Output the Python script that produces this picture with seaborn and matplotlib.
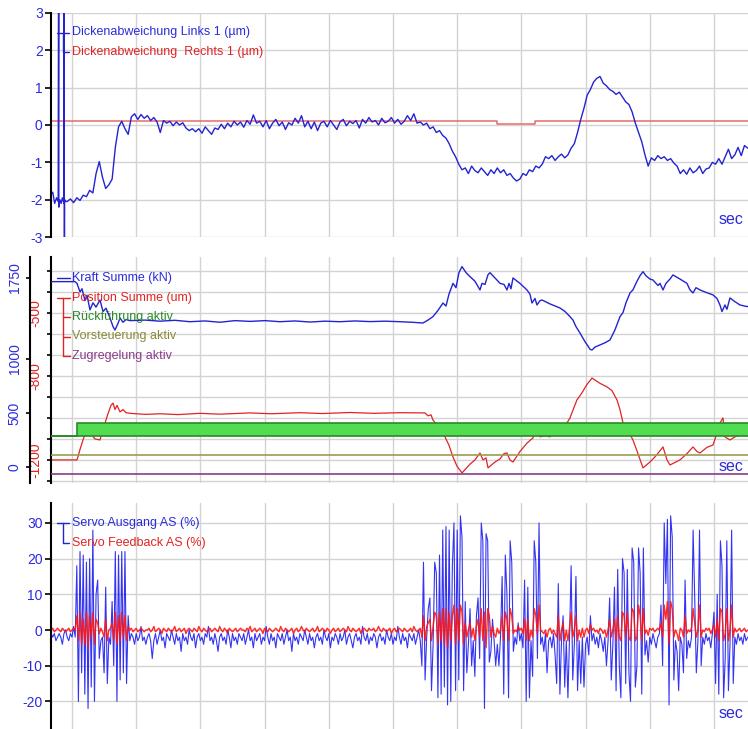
import numpy as np
import matplotlib
matplotlib.use("Agg")
import matplotlib.pyplot as plt
from matplotlib import font_manager
from matplotlib.lines import Line2D
from matplotlib.ticker import FuncFormatter
import seaborn as sns

# ---------------------------------------------------------------- data
# Dickenabweichung Links 1 (µm): start-up glitches with explicit times ...
dick_links_start_pts = [
    (-3.25, -1.85), (-3.0, -1.8), (-2.7, -2.1), (-2.4, -1.95), (-2.15, -2.05),
    (-2.05, 9.0), (-2.05, -2.2), (-1.9, -2.0), (-1.7, -2.1), (-1.5, -1.95),
    (-1.25, -2.1), (-1.2, 9.0), (-1.2, -9.0), (-1.15, -2.0), (-1.0, -2.05),
]
# ... then the trace sampled every 0.5 s from t = -0.75 s
dick_links_t0 = -0.75
dick_links_dt = 0.5
dick_links_v = [
    -2.05, -1.98, -2.08, -1.95, -2.02, -1.88, -1.92, -1.75, -1.82, -1.3,
    -0.98, -1.4, -1.7, -1.6, -1.45, -0.6, -0.05, 0.1, -0.1, -0.25,
    0.22, 0.3, 0.15, 0.28, 0.18, 0.25, 0.12, 0.2, 0.08, -0.2,
    0.12, 0.05, 0.1, -0.02, 0.08, 0.0, 0.06, -0.08, -0.15, -0.1,
    -0.18, -0.1, -0.22, -0.05, -0.15, -0.25, -0.08, -0.12, 0.02, -0.1,
    0.05, -0.05, 0.1, 0.0, 0.08, -0.06, 0.12, 0.02, 0.27, 0.05,
    0.1, -0.05, 0.12, -0.1, 0.05, 0.15, -0.02, 0.08, -0.12, 0.06,
    0.0, 0.18, 0.05, 0.25, -0.05, 0.1, -0.1, 0.08, -0.15, 0.05,
    0.1, -0.05, 0.12, 0.0, -0.12, 0.08, 0.15, -0.02, 0.1, 0.04,
    0.12, -0.08, 0.15, 0.05, 0.2, 0.08, 0.12, 0.0, 0.18, 0.06,
    0.1, 0.2, 0.05, 0.15, 0.02, 0.1, 0.25, 0.12, 0.3, 0.05,
    0.08, 0.0, 0.05, -0.1, -0.05, -0.2, -0.15, -0.28, -0.35, -0.5,
    -0.7, -0.85, -1.05, -1.2, -1.15, -1.3, -1.1, -1.22, -1.28, -1.15,
    -1.25, -1.35, -1.2, -1.3, -1.15, -1.28, -1.2, -1.35, -1.3, -1.42,
    -1.5, -1.45, -1.3, -1.35, -1.2, -1.25, -1.1, -1.15, -1.05, -0.85,
    -0.9, -0.82, -0.95, -0.85, -0.78, -0.88, -0.8, -0.62, -0.5, -0.2,
    0.15, 0.45, 0.8, 0.95, 1.15, 1.25, 1.3, 1.12, 1.05, 0.95,
    0.9, 0.82, 0.88, 0.75, 0.62, 0.55, 0.35, 0.05, -0.2, -0.45,
    -0.8, -1.1, -0.88, -0.95, -0.82, -0.9, -0.85, -0.95, -0.9, -1.02,
    -1.1, -1.3, -1.2, -1.32, -1.15, -1.28, -1.22, -1.1, -1.3, -1.18,
    -1.15, -1.0, -1.05, -0.9, -1.05, -0.85, -0.65, -0.9, -0.8, -0.6,
    -0.82, -0.55, -0.62,
]
# Dickenabweichung Rechts 1 (µm)
dick_rechts_pts = [(-3.3, 0.1), (66.2, 0.1), (66.2, 0.03), (72.1, 0.03),
                   (72.1, 0.1), (105.4, 0.1)]

# Kraft Summe (kN)
kraft_pts = [
    (-3.3, 1716), (0.0, 1716), (0.47, 1716), (0.78, 1700), (1.25, 1620),
    (1.56, 1650), (2.02, 1540), (2.34, 1590), (2.80, 1454), (3.27, 1520),
    (3.74, 1480), (4.36, 1546), (4.83, 1440), (5.30, 1470), (5.92, 1380),
    (6.39, 1300), (6.70, 1268), (7.17, 1330), (7.48, 1380), (7.94, 1340),
    (8.41, 1365), (9.03, 1355), (11.37, 1360), (13.71, 1350), (16.04, 1358),
    (18.38, 1345), (20.72, 1352), (23.05, 1340), (25.39, 1355), (27.73, 1348),
    (30.06, 1355), (32.40, 1345), (34.74, 1352), (37.07, 1342), (39.41, 1350),
    (41.74, 1345), (44.08, 1352), (46.42, 1346), (48.75, 1350), (51.09, 1345),
    (52.96, 1340), (54.67, 1333), (55.45, 1360), (56.23, 1392), (57.01, 1450),
    (57.79, 1518), (58.26, 1490), (58.72, 1600), (59.35, 1700), (59.81, 1660),
    (60.28, 1800), (60.75, 1855), (61.37, 1800), (62.00, 1762), (62.77, 1720),
    (63.55, 1639), (63.86, 1700), (64.33, 1690), (64.80, 1780), (65.11, 1799),
    (65.89, 1750), (66.67, 1700), (67.29, 1690), (67.76, 1639), (68.07, 1700),
    (68.38, 1650), (68.69, 1750), (69.78, 1700), (70.87, 1639), (71.34, 1600),
    (71.65, 1518), (72.12, 1560), (72.43, 1500), (72.90, 1540), (73.21, 1546),
    (74.45, 1510), (76.01, 1472), (76.79, 1440), (77.57, 1392), (78.04, 1360),
    (78.50, 1300), (79.13, 1240), (79.91, 1160), (80.37, 1120), (80.69, 1090),
    (81.00, 1083), (81.46, 1110), (82.24, 1130), (83.02, 1150), (83.80, 1176),
    (84.58, 1270), (85.36, 1392), (85.83, 1430), (86.29, 1520), (86.92, 1611),
    (87.38, 1640), (88.01, 1720), (88.47, 1770), (88.94, 1808), (89.41, 1770),
    (90.03, 1740), (90.50, 1731), (91.28, 1680), (91.59, 1700), (92.06, 1639),
    (92.52, 1700), (93.15, 1740), (93.61, 1778), (94.70, 1740), (95.79, 1700),
    (96.26, 1640), (96.73, 1611), (97.20, 1660), (97.82, 1639), (98.60, 1620),
    (99.84, 1593), (100.47, 1560), (100.93, 1500), (101.25, 1439), (101.71, 1500),
    (102.02, 1460), (102.49, 1565), (103.27, 1530), (104.05, 1500), (105.14, 1485),
    (105.45, 1490),
]

# Position Summe (um)
position_pts = [
    (-3.3, -1200), (0.78, -1200), (1.25, -1150), (1.87, -1090), (2.34, -1081),
    (2.80, -1070), (3.58, -1100), (4.36, -1105), (4.98, -1040), (5.61, -980),
    (6.07, -940), (6.39, -929), (6.70, -960), (7.01, -940), (7.48, -971),
    (7.94, -960), (8.41, -975), (9.03, -978), (11.5, -983), (13.71, -980),
    (16.5, -984), (19.94, -978), (23.0, -982), (27.73, -976), (31.0, -980),
    (35.51, -975), (39.0, -979), (43.30, -974), (47.0, -978), (51.09, -975),
    (54.98, -976), (55.45, -990), (55.92, -985), (56.23, -1010), (57.32, -1050),
    (58.10, -1090), (58.72, -1130), (59.35, -1186), (59.97, -1230), (60.75, -1262),
    (62.00, -1220), (62.77, -1200), (63.55, -1167), (64.02, -1200), (64.49, -1190),
    (64.80, -1238), (65.89, -1210), (66.67, -1195), (67.29, -1170), (67.76, -1167),
    (68.22, -1200), (68.69, -1210), (69.78, -1160), (70.87, -1120), (71.81, -1095),
    (72.27, -1060), (72.90, -1090), (73.68, -1085), (74.45, -1090), (76.01, -1050),
    (77.10, -1024), (77.57, -1000), (78.19, -950), (78.66, -914), (79.44, -880),
    (80.22, -840), (81.00, -810), (82.24, -835), (83.33, -852), (84.11, -870),
    (84.89, -914), (85.36, -960), (85.83, -1024), (86.60, -1060), (87.38, -1105),
    (88.16, -1170), (88.94, -1238), (90.03, -1210), (90.97, -1180), (92.06, -1138),
    (92.68, -1200), (93.15, -1224), (94.70, -1200), (95.79, -1170), (96.73, -1138),
    (97.35, -1160), (97.82, -1167), (98.91, -1140), (99.84, -1129), (100.62, -1060),
    (100.93, -1024), (101.40, -1000), (101.71, -1090), (102.49, -1105), (103.27, -1090),
    (104.05, -1081), (105.45, -1070),
]

# digital states (0 = off, 1 = on)
rueckfuehrung_pts = [(-3.3, 0), (0.78, 1), (105.4, 1)]
vorsteuerung_pts = [(-3.3, 0), (105.4, 0)]
zugregelung_pts = [(-3.3, 0), (105.4, 0)]

# Servo Ausgang / Feedback AS (%), sampled every 0.25 s from t = -3.25 s
servo_t0 = -3.25
servo_dt = 0.25
servo_ausgang = [
    -1, -2, -1, -3, -2, -1, -2, -4, -1, 0, -2, -3, -1, -2, 1, -2, 18, -20, 22, -12,
    21, -18, 19, -22, 20, -16, 28, -20, 10, 14, -8, -3, -2, -12, 12, -15, -2, -4, 8, -10,
    22, -20, 21, -14, 22, -12, 22, -15, 4, -3, -1, -2, -4, -1, -3, -2, 1, -3, -2, -4,
    -2, -1, -3, -8, -3, -1, -4, -2, 0, -3, -2, -5, -1, -2, -3, 0, -2, -4, -1, -3,
    -2, -6, -1, -3, -2, -4, 0, -2, -3, -1, -5, -2, -1, -3, -2, -4, -1, -2, 1, -3,
    -2, -4, -1, -3, -6, -2, -1, -3, -2, -4, 0, -2, -5, -1, -3, -2, -4, -1, -2, -3,
    -1, -4, -2, 0, -3, -2, -5, -1, -3, -2, -1, -4, -2, -3, 1, -2, -4, -1, -3, -2,
    -5, -1, -2, -3, -1, -4, -2, 0, -3, -2, -6, -1, -3, -2, -4, -1, -2, -3, 0, -2,
    -4, -1, -3, -2, -5, -2, -1, -3, -2, -4, 0, -2, -3, -1, -5, -2, -3, -1, -2, -4,
    -1, -3, -2, 0, -4, -2, -1, -3, -5, -2, -1, -3, -2, -4, 1, -2, -3, -1, -4, -2,
    -3, -1, -2, -5, -2, -1, -3, -2, -4, 0, -2, -3, -1, -4, -2, -3, 1, -2, -4, -1,
    -3, -2, -5, -1, -2, -3, -1, -4, -2, 0, -3, -10, 19, -14, -2, 6, 9, -17, -4, 19,
    16, -19, 21, -18, 28, -16, 29, -21, 28, -20, 18, 30, -17, 28, -14, 32, 26, -17, 8, -12,
    -4, 6, -10, -3, -13, 4, 9, -8, 30, 25, -22, 27, 25, -9, -6, 3, -3, -10, -4, -10,
    -2, 15, -18, 21, 10, -19, 25, 19, -6, -2, -4, 2, -3, -1, -5, 14, -20, 12, -19, -3,
    -13, 25, 19, -8, 30, -4, -2, -6, -1, -12, -3, -2, -5, -1, -7, -15, 13, -18, -3, 4,
    -16, -3, -19, -2, 18, -14, -4, 15, -17, -3, -15, -2, -16, -4, -2, -7, 4, -3, -1, -4,
    -2, -5, -1, -3, -6, -2, -10, -3, 9, -14, -4, 12, -17, 17, -10, -19, 20, 16, -15, 17,
    -12, -20, 23, 19, -16, -10, 23, 16, -18, 23, -7, -3, -9, -2, -4, -1, -3, -5, -2, -1,
    7, -10, 30, 13, 31, -21, 32, 26, -14, -3, -6, -17, -2, -4, -12, 14, -8, -3, -5, -2,
    28, 9, -12, -3, 28, -10, -2, -4, -1, -3, -2, -5, -1, 5, -15, 10, -18, 25, 18, -19,
    -8, 25, -17, -4, 28, -15, -2, -4, -1, -3, -2, -4, -1, -3, -2,
]
servo_feedback = [
    0, 0.5, -0.5, 0, 0.5, 0, -0.5, 0.5, 0, -0.5, 0, 0.5, -0.5, 0, 0.5, 0, 4, -3, 5, -4,
    3, -4, 5, -5, 4, -2, 5, -4, 3, 2, -1, 0.5, -0.5, -2, 3, -3, 0, 0.5, 2, -3,
    5, -4, 4, -3, 5, -2, 4, -3, 1, 0, 0.5, -0.5, 0, 0.5, -0.5, 0, 0.5, 0, -0.5, 0,
    0, 0.5, -0.5, 0, 1, -0.5, 0, 0.5, 0, -1, 0.5, 0, -0.5, 0.5, 0, -0.5, 0, 1, -0.5, 0,
    0.5, -0.5, 0, 0.5, -1, 0, 0.5, 0, -0.5, 0.5, 0, -0.5, 1, 0, -0.5, 0.5, 0, -0.5, 0, 0.5,
    -0.5, 0, 0.5, 0, -0.5, 1, 0, -0.5, 0.5, 0, -1, 0.5, 0, -0.5, 0, 0.5, -0.5, 0, 0.5, 0,
    0, -0.5, 0.5, 0, 1, -0.5, 0, 0.5, -0.5, 0, 0.5, 0, -1, 0.5, 0, -0.5, 0.5, 0, -0.5, 0,
    0.5, 0, -0.5, 1, 0, -0.5, 0.5, 0, -0.5, 0, 0.5, -1, 0, 0.5, -0.5, 0, 1, 0, -0.5, 0.5,
    0, -0.5, 0, 0.5, -0.5, 0, 1, -0.5, 0, 0.5, 0, -0.5, 0.5, 0, -1, 0, 0.5, -0.5, 0, 0.5,
    -0.5, 0, 0.5, 0, -0.5, 1, 0, -0.5, 0.5, 0, -0.5, 0, 0.5, -1, 0, 0.5, 0, -0.5, 0.5, 0,
    0, 0.5, -0.5, 0, 1, 0, -0.5, 0.5, 0, -0.5, 0, 0.5, -1, 0, 0.5, -0.5, 0, 0.5, 0, -0.5,
    0.5, 0, -0.5, 0, 0.5, -0.5, 1, 0, -0.5, 0, 0.5, -2, 4, -3, 1, 2, 3, -3, 1, 5,
    4, -4, 5, -3, 6, -4, 6, -5, 5, -3, 4, 7, -4, 6, -3, 7, 5, -4, 2, -2,
    0, 2, -2, 0.5, -3, 1, 3, -2, 6, -3, 5, -5, 6, 4, -2, 1, -1, -2, 0.5, -1,
    0, 4, -3, 5, 3, -3, 6, 4, -1, 0, -0.5, 1, 0, 0.5, -1, 3, -3, 3, -3, 0,
    -2, 6, 4, -1, 7, 0, -0.5, -1, 0, -2, 0, 0.5, -1, 0, -1, -2, 4, -3, 0, 2,
    -3, 0, -3, 0.5, 5, -2, 0, 4, -3, 0, -2, 0.5, -2, 0, 0.5, -1, 1.5, 0, 0.5, -0.5,
    0, -1, 0.5, 0, -1, 0, -2, 0, 3, -2, 0, 3, -3, 4, -2, -3, 5, 4, -2, 5,
    -2, -3, 6, 5, -3, -2, 7, 4, -3, 6, -1, 0, -1.5, 0.5, 0, 0.5, -0.5, 0, 0.5, 0,
    2, -2, 7, 3, 8, -4, 8, 6, -2, 0, -1, -3, 0.5, 0, -2, 4, -1, 0, -0.5, 0.5,
    6, 2, -2, 0, 7, -2, 0, -0.5, 0.5, 0, 0.5, -1, 0, 1.5, -2, 3, -3, 6, 5, -3,
    -1, 6, -3, 0, 7, -2, 0.5, -0.5, 0, 0.5, -0.5, 0, 0.5, -0.5, 0,
]

# ---------------------------------------------------------------- style
W, H = 748, 729
sns.set_theme(style="white")
_installed = {f.name for f in font_manager.fontManager.ttflist}
_base = "Liberation Sans Narrow" if "Liberation Sans Narrow" in _installed else "Liberation Sans"
plt.rcParams["font.family"] = [_base, "DejaVu Sans"]
plt.rcParams["axes.unicode_minus"] = False

BLUE = "#2323d2"
BLUE_TXT = "#2b2bdc"
RED = "#e02424"
RED_SOFT = "#e86a6a"
GREEN = "#2a8a2a"
GREEN_FILL = "#52dc52"
OLIVE = "#9c9c50"
PURPLE = "#8a3a8a"
GRID = "#d3d3d3"
XLIM = (-3.27, 105.3)
GRID_X = np.arange(0, 101, 10)
LEGEND_SIZE = 9


def rect(top, bottom):
    return [51 / W, 1 - bottom / H, (W - 51) / W, (bottom - top) / H]


def style_axes(ax, ylim, yticks, color, size=10):
    ax.set_xlim(*XLIM)
    ax.set_ylim(*ylim)
    ax.set_xticks(GRID_X)
    ax.set_yticks(yticks)
    ax.set_facecolor("white")
    ax.grid(True, color=GRID, lw=1.0)
    ax.set_axisbelow(True)
    for s in ("top", "right", "bottom"):
        ax.spines[s].set_visible(False)
    ax.spines["left"].set_color("black")
    ax.spines["left"].set_linewidth(1.5)
    ax.tick_params(axis="x", length=0, labelbottom=False, bottom=False)
    ax.tick_params(axis="y", left=True, direction="out", length=4, width=1.2,
                   color="black", labelcolor=color, labelsize=size, pad=2)
    ax.set_xlabel("")
    ax.set_ylabel("")


def ftext(x, y, s, color, size=LEGEND_SIZE, ha="left"):
    fig.text(x / W, 1 - y / H, s, color=color, fontsize=size, ha=ha, va="center")


def fline(x0, y0, x1, y1, color):
    fig.add_artist(Line2D([x0 / W, x1 / W], [1 - y0 / H, 1 - y1 / H],
                          color=color, lw=1.0))


def xy(pts):
    t, v = zip(*pts)
    return np.array(t), np.array(v, dtype=float)


fig = plt.figure(figsize=(W / 100, H / 100), dpi=100)
fig.patch.set_facecolor("white")

# ---------------------------------------------------------------- panel 1
ax1 = fig.add_axes(rect(13, 237))
t_a, v_a = xy(dick_links_start_pts)
t_b = dick_links_t0 + dick_links_dt * np.arange(len(dick_links_v))
links_t = np.concatenate([t_a, t_b])
links_v = np.concatenate([v_a, np.array(dick_links_v)])
rt, rv = xy(dick_rechts_pts)
sns.lineplot(x=rt, y=rv, ax=ax1, color=RED_SOFT, lw=1.1, sort=False,
             estimator=None, legend=False)
sns.lineplot(x=links_t, y=links_v, ax=ax1, color=BLUE, lw=1.0, sort=False,
             estimator=None, legend=False)
style_axes(ax1, (-3, 3), np.arange(-3, 4, 1), BLUE_TXT)

ftext(72, 32.5, "Dickenabweichung Links 1 (\u00b5m)", BLUE_TXT)
ftext(72, 52, "Dickenabweichung  Rechts 1 (\u00b5m)", RED)
fline(57, 32.5, 69, 32.5, BLUE)
fline(62.5, 32.5, 62.5, 52, BLUE)
fline(62.5, 52, 69, 52, BLUE)
ftext(731, 219, "sec", BLUE_TXT, size=11.5, ha="center")

# ---------------------------------------------------------------- panel 2
ax2 = fig.add_axes(rect(257, 483))
pt, pv = xy(position_pts)
sns.lineplot(x=pt, y=pv, ax=ax2, color=RED, lw=0.9, sort=False,
             estimator=None, legend=False)
style_axes(ax2, (-1310, -233), np.arange(-1300, -200, 100), RED, size=10)
red_labels = {-500: "-500", -800: "-800", -1200: "-1200"}
ax2.yaxis.set_major_formatter(FuncFormatter(
    lambda v, _: red_labels.get(int(round(v)), "")))
ax2.tick_params(axis="y", labelrotation=90, length=3, pad=3)
for lab in ax2.get_yticklabels():
    lab.set_va("center")

ax2b = ax2.twinx()
kt, kv = xy(kraft_pts)
sns.lineplot(x=kt, y=kv, ax=ax2b, color=BLUE, lw=1.0, sort=False,
             estimator=None, legend=False)
ax2b.set_ylim(-148, 1944)
ax2b.set_yticks([0, 500, 1000, 1750])
ax2b.grid(False)
ax2b.set_ylabel("")
for s in ("top", "right", "bottom"):
    ax2b.spines[s].set_visible(False)
ax2b.spines["left"].set_visible(True)
ax2b.spines["left"].set_position(("outward", 15))
ax2b.spines["left"].set_color("black")
ax2b.spines["left"].set_linewidth(1.5)
ax2b.yaxis.set_ticks_position("left")
ax2b.tick_params(axis="y", left=True, right=False, direction="out", length=3,
                 width=1.2, color="black", labelcolor=BLUE_TXT, labelsize=10,
                 labelrotation=90, pad=3)
for lab in ax2b.get_yticklabels():
    lab.set_va("center")

# digital lanes drawn on top of the analogue traces
ax2d = ax2.twinx()
ax2d.set_ylim(0, 1)
ax2d.set_axis_off()
LANE_H = 0.0575
for pts, base, col, fill in [
    (rueckfuehrung_pts, 0.208, GREEN, GREEN_FILL),
    (vorsteuerung_pts, 0.124, OLIVE, None),
    (zugregelung_pts, 0.040, PURPLE, None),
]:
    dt, dv = xy(pts)
    lvl = base + LANE_H * dv
    if fill is not None:
        ax2d.fill_between(dt, base, lvl, step="post", color=fill, lw=0)
        ax2d.axhline(base, color=col, lw=1.2)
    sns.lineplot(x=dt, y=lvl, ax=ax2d, color=col, lw=1.2, sort=False,
                 estimator=None, legend=False, drawstyle="steps-post")
ax2d.set_xlim(*XLIM)

ftext(72, 278, "Kraft Summe (kN)", BLUE_TXT)
ftext(72, 297.5, "Position Summe (um)", RED)
ftext(72, 317, "R\u00fcckf\u00fchrung aktiv", GREEN)
ftext(72, 336.5, "Vorsteuerung aktiv", "#8a8a3a")
ftext(72, 356, "Zugregelung aktiv", PURPLE)
fline(57, 278, 70, 278, BLUE)
fline(57, 297.5, 70, 297.5, RED)
fline(62.5, 297.5, 62.5, 356, RED)
for yy in (317, 336.5, 356):
    fline(62.5, yy, 70, yy, RED)
ftext(731, 466, "sec", BLUE_TXT, size=11.5, ha="center")

# ---------------------------------------------------------------- panel 3
ax3 = fig.add_axes(rect(503, 729))
st = servo_t0 + servo_dt * np.arange(len(servo_ausgang))
ft = servo_t0 + servo_dt * np.arange(len(servo_feedback))
sns.lineplot(x=st, y=servo_ausgang, ax=ax3, color="#1010f0", lw=0.8,
             alpha=0.85, sort=False, estimator=None, legend=False)
sns.lineplot(x=ft, y=servo_feedback, ax=ax3, color="#ff1414", lw=1.0,
             alpha=0.9, sort=False, estimator=None, legend=False)
style_axes(ax3, (-27.75, 35.6), np.arange(-20, 31, 10), BLUE_TXT)

ftext(72, 523, "Servo Ausgang AS (%)", BLUE_TXT)
ftext(72, 543, "Servo Feedback AS (%)", RED)
fline(57, 523, 69, 523, BLUE)
fline(62.5, 523, 62.5, 543, BLUE)
fline(62.5, 543, 69, 543, BLUE)
ftext(731, 713, "sec", BLUE_TXT, size=11.5, ha="center")

fig.savefig("out.png", dpi=100, facecolor="white")
